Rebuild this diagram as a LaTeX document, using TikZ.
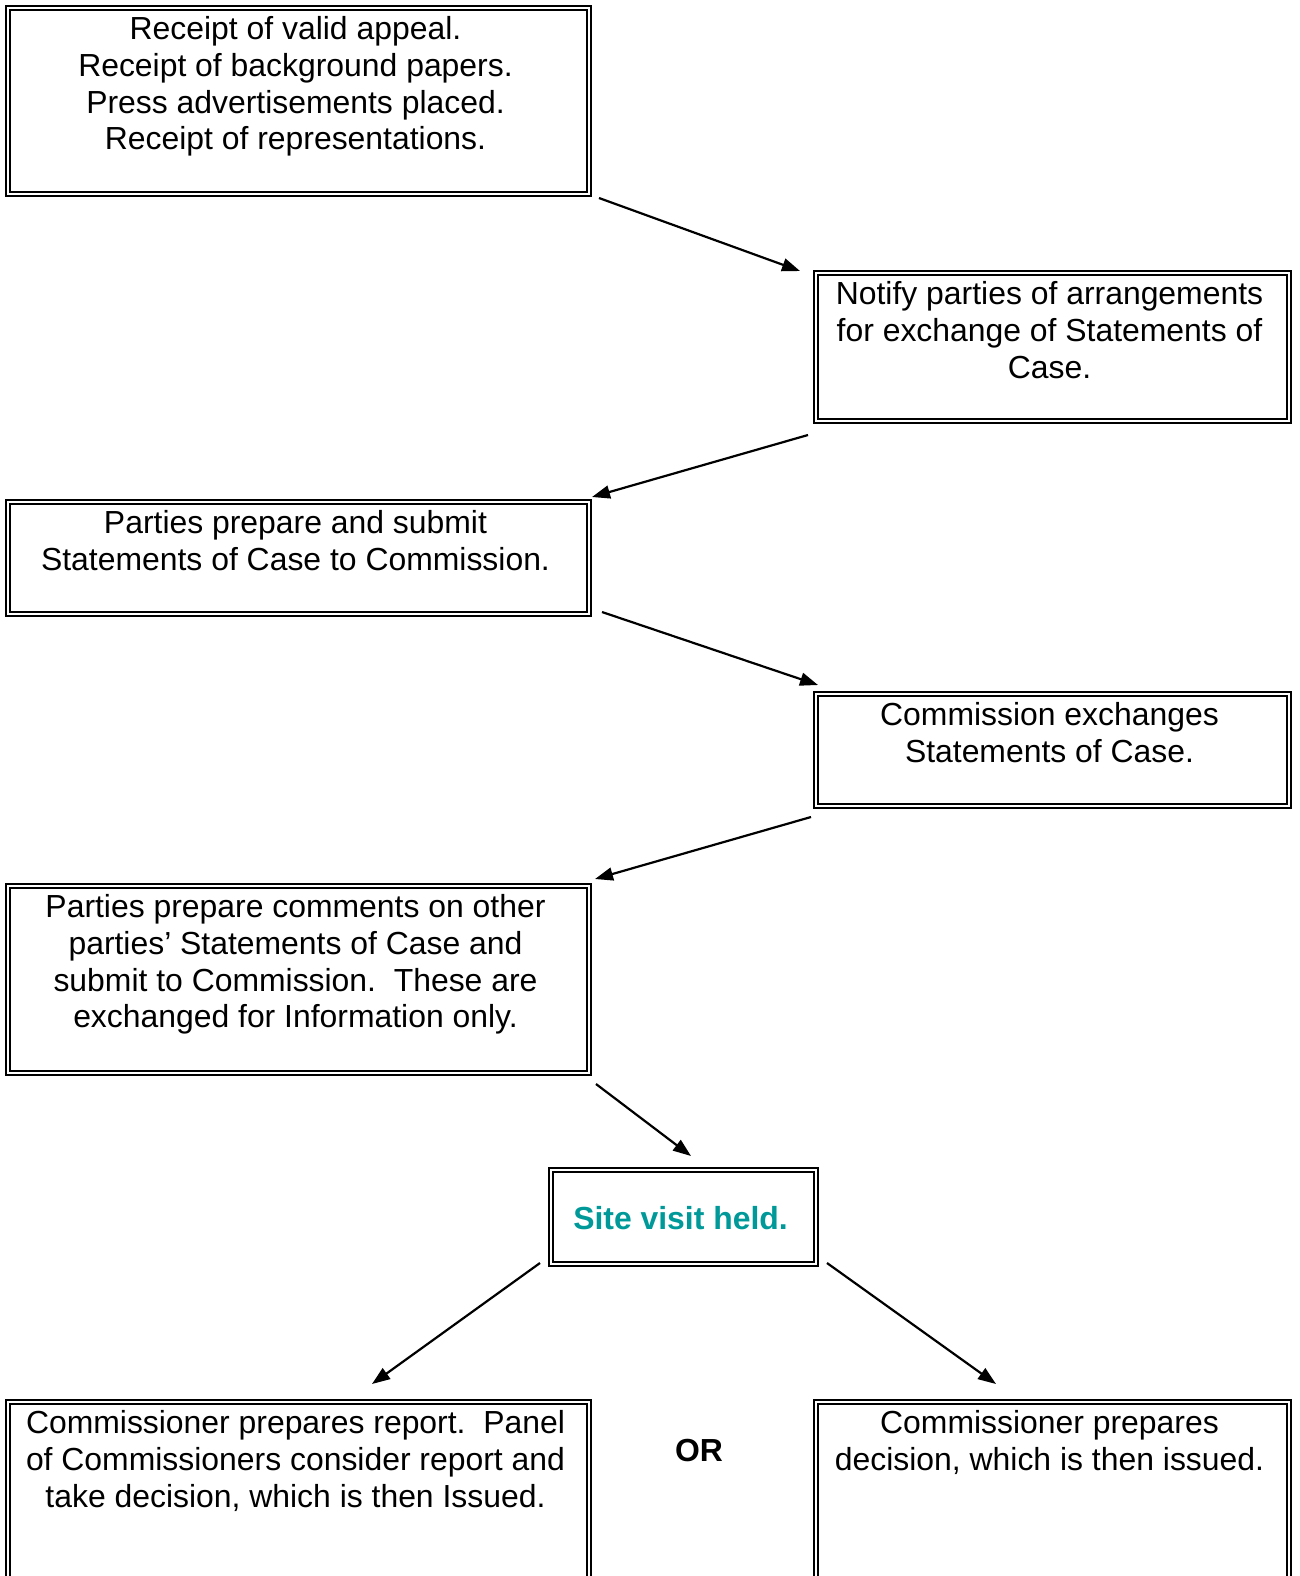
\documentclass[tikz,border=0pt]{standalone}
\usepackage{fontspec}
\setmainfont{Liberation Sans}
\usetikzlibrary{arrows.meta}
\definecolor{siteteal}{RGB}{0,153,153}
\begin{document}
\frenchspacing
\begin{tikzpicture}[x=1pt,y=-1pt,
  box/.style={draw=black,line width=2pt,double=white,double distance=1.8pt,
    anchor=north west,inner sep=0pt,outer sep=0pt},
  txt/.style={anchor=north,inner sep=0pt,align=center,
    font=\fontsize{31.9}{36.7}\selectfont},
  arr/.style={line width=2.2pt,-{Triangle[length=18pt,width=13pt]}}]
\clip (0,0) rectangle (1299,1576);
\fill[white] (0,0) rectangle (1299,1576);
% boxes
\node[box,minimum width=581pt,minimum height=186pt] (b1) at (8,8) {};
\node[box,minimum width=473pt,minimum height=148pt] (b2) at (816,273) {};
\node[box,minimum width=581pt,minimum height=112pt] (b3) at (8,502) {};
\node[box,minimum width=473pt,minimum height=112pt] (b4) at (816,694) {};
\node[box,minimum width=581pt,minimum height=187pt] (b5) at (8,886) {};
\node[box,minimum width=265pt,minimum height=94pt] (site) at (551,1170) {};
\node[box,minimum width=581pt,minimum height=230pt] (b6) at (8,1402) {};
\node[box,minimum width=473pt,minimum height=230pt] (b7) at (816,1402) {};
% texts
\node[txt] (t1) at ([xshift=-3pt,yshift=-8.5pt]b1.north) {Receipt of valid appeal.\\Receipt of background papers.\\Press advertisements placed.\\Receipt of representations.};
\node[txt] (t2) at ([xshift=-3pt,yshift=-8.5pt]b2.north) {Notify parties of arrangements\\for exchange of Statements of\\Case.};
\node[txt] (t3) at ([xshift=-3pt,yshift=-8.5pt]b3.north) {Parties prepare and submit\\Statements of Case to Commission.};
\node[txt] (t4) at ([xshift=-3pt,yshift=-8.5pt]b4.north) {Commission exchanges\\Statements of Case.};
\node[txt] (t5) at ([xshift=-3pt,yshift=-8.5pt]b5.north) {Parties prepare comments on other\\parties’ Statements of Case and\\submit to Commission.\ \ These are\\exchanged for Information only.};
\node[inner sep=0pt,font=\fontsize{31.9}{36.7}\selectfont\bfseries,text=siteteal] (ts) at ([xshift=-3pt,yshift=-1pt]site.center) {Site visit held.};
\node[txt] (t6) at ([xshift=-3pt,yshift=-8.5pt]b6.north) {Commissioner prepares report.\ \ Panel\\of Commissioners consider report and\\take decision, which is then Issued.};
\node[txt] (t7) at ([xshift=-3pt,yshift=-8.5pt]b7.north) {Commissioner prepares\\decision, which is then issued.};
\node[inner sep=0pt,font=\fontsize{31.9}{36.7}\selectfont\bfseries] (or) at (699,1450) {OR};
% arrow end points
\coordinate (a1s) at (599,198); \coordinate (a1e) at (800,271);
\coordinate (a2s) at (808,435); \coordinate (a2e) at (592,497);
\coordinate (a3s) at (602,612); \coordinate (a3e) at (818,685);
\coordinate (a4s) at (811,817); \coordinate (a4e) at (595,879);
\coordinate (a5s) at (596,1084); \coordinate (a5e) at (691,1156);
\coordinate (a6s) at (540,1263); \coordinate (a6e) at (372,1384);
\coordinate (a7s) at (827,1263); \coordinate (a7e) at (996,1384);
\draw[arr] (a1s) -- (a1e);
\draw[arr] (a2s) -- (a2e);
\draw[arr] (a3s) -- (a3e);
\draw[arr] (a4s) -- (a4e);
\draw[arr] (a5s) -- (a5e);
\draw[arr] (a6s) -- (a6e);
\draw[arr] (a7s) -- (a7e);
\end{tikzpicture}
\end{document}
